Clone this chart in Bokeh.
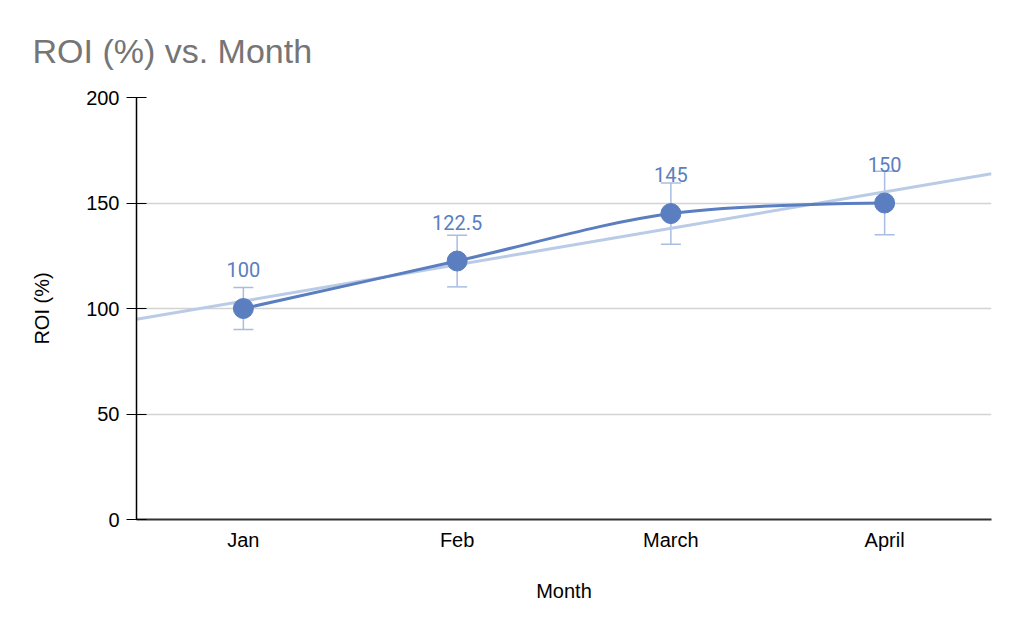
import numpy as np
from bokeh.plotting import figure
from bokeh.models import Range1d, FixedTicker, ColumnDataSource, Whisker, TeeHead
from bokeh.embed import file_html
from bokeh.resources import INLINE
from bokeh.core.properties import value

months = ["Jan", "Feb", "March", "April"]
roi = [100, 122.5, 145, 150]
roi_err = [10, 12.25, 14.5, 15]
labels = ["100", "122.5", "145", "150"]
y_ticks = [0, 50, 100, 150, 200]

BLUE = "#5a7ebf"
TREND = "#b9cbe6"
ERR = "#a9bde0"
FONT = "Liberation Sans"

xs = np.arange(len(months)) + 0.5
ys = np.array(roi, dtype=float)

p = figure(width=1016, height=623, output_backend="svg", toolbar_location=None,
           x_range=Range1d(0, len(months)), y_range=Range1d(0, 200),
           min_border_left=136, min_border_right=25, min_border_top=97,
           min_border_bottom=104, title="ROI (%) vs. Month")
p.outline_line_color = None
p.background_fill_color = "white"
p.border_fill_color = "white"

p.title.text_font = FONT
p.title.text_font_size = "34px"
p.title.text_font_style = "normal"
p.title.text_color = "#757575"
p.title.align = "left"
p.title.offset = 32 - 136
p.title.standoff = 55

# axes
p.xaxis.ticker = FixedTicker(ticks=list(xs))
p.xaxis.major_label_overrides = {float(x): m for x, m in zip(xs, months)}
p.xaxis.major_tick_line_color = None
p.xaxis.minor_tick_line_color = None
p.xaxis.axis_line_color = "#333333"
p.xaxis.axis_line_width = 2
p.xaxis.axis_label = "Month"
p.xaxis.major_label_standoff = 3
p.xaxis.axis_label_standoff = 26

p.yaxis.ticker = FixedTicker(ticks=y_ticks)
p.yaxis.major_tick_in = 10
p.yaxis.major_tick_out = 10
p.yaxis.major_tick_line_color = "black"
p.yaxis.minor_tick_line_color = None
p.yaxis.axis_line_color = "black"
p.yaxis.axis_line_width = 1.5
p.yaxis.axis_label = "ROI (%)"
p.yaxis.major_label_standoff = 7
p.yaxis.axis_label_standoff = 30

for ax in (p.xaxis, p.yaxis):
    ax.major_label_text_font = FONT
    ax.major_label_text_font_size = "20px"
    ax.major_label_text_color = "black"
    ax.axis_label_text_font = FONT
    ax.axis_label_text_font_size = "20px"
    ax.axis_label_text_font_style = "normal"
    ax.axis_label_text_color = "black"

p.xgrid.grid_line_color = None
p.ygrid.ticker = FixedTicker(ticks=y_ticks[1:])
p.ygrid.grid_line_color = "#d3d3d3"
p.ygrid.grid_line_width = 1.5

# linear trendline from data
slope, intercept = np.polyfit(xs, ys, 1)
tx = np.array([0.0, float(len(months))])
p.line(tx, slope * tx + intercept, line_color=TREND, line_width=3)

# error bars
src = ColumnDataSource(dict(x=xs, lower=ys - np.array(roi_err), upper=ys + np.array(roi_err),
                            y=ys, label=labels))
wh = Whisker(source=src, base="x", lower="lower", upper="upper", dimension="height",
             line_color=ERR, line_width=1.5,
             upper_head=TeeHead(size=20, line_color=ERR, line_width=1.5),
             lower_head=TeeHead(size=20, line_color=ERR, line_width=1.5))
p.add_layout(wh)

# smoothed line (cubic Bezier segments, Catmull-Rom control points)
k = 1.0 / 6.0
n = len(xs)
x0, y0, x1, y1, cx0, cy0, cx1, cy1 = [], [], [], [], [], [], [], []
for i in range(n - 1):
    pim1 = i - 1 if i > 0 else i
    pip2 = i + 2 if i + 2 < n else i + 1
    x0.append(xs[i]); y0.append(ys[i]); x1.append(xs[i + 1]); y1.append(ys[i + 1])
    if i == 0:
        cx0.append(xs[i]); cy0.append(ys[i])
    else:
        cx0.append(xs[i] + (xs[i + 1] - xs[pim1]) * k); cy0.append(ys[i] + (ys[i + 1] - ys[pim1]) * k)
    if i + 2 >= n:
        cx1.append(xs[i + 1]); cy1.append(ys[i + 1])
    else:
        cx1.append(xs[i + 1] - (xs[pip2] - xs[i]) * k); cy1.append(ys[i + 1] - (ys[pip2] - ys[i]) * k)
p.bezier(x0=x0, y0=y0, x1=x1, y1=y1, cx0=cx0, cy0=cy0, cx1=cx1, cy1=cy1,
         line_color=BLUE, line_width=3)

p.scatter("x", "y", source=src, size=20, fill_color=BLUE, line_color=BLUE)

p.text("x", "y", text="label", source=src, y_offset=-39, text_align="center",
       text_baseline="alphabetic", text_font=value("Roboto"), text_font_size="20px",
       text_color=BLUE)

open("out.html", "w").write(file_html(p, INLINE))
